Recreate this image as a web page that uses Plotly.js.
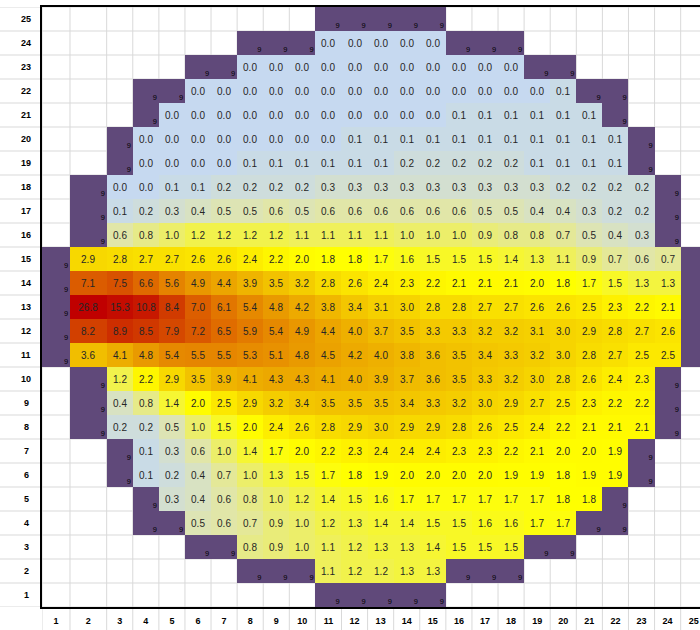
<!DOCTYPE html>
<html><head><meta charset="utf-8">
<script src="https://cdn.plot.ly/plotly-3.0.1.min.js"></script>
<style>html,body{margin:0;padding:0;background:#fff}#chart{width:700px;height:630px}</style>
</head><body><div id="chart"></div>
<script>
// ---------------- DATA ----------------
const _ = null, R = 'R';   // _ = empty cell, R = reflector cell (shown as "9")
const colLabels = [1,2,3,4,5,6,7,8,9,10,11,12,13,14,15,16,17,18,19,20,21,22,23,24,25];
const rowLabels = [25,24,23,22,21,20,19,18,17,16,15,14,13,12,11,10,9,8,7,6,5,4,3,2,1];
const reflectorLabel = '9';

const row25 = [_,_,_,_,_,_,_,_,_,_,R,R,R,R,R,_,_,_,_,_,_,_,_,_,_];
const row24 = [_,_,_,_,_,_,_,R,R,R,0.0,0.0,0.0,0.0,0.0,R,R,R,_,_,_,_,_,_,_];
const row23 = [_,_,_,_,_,R,R,0.0,0.0,0.0,0.0,0.0,0.0,0.0,0.0,0.0,0.0,0.0,R,R,_,_,_,_,_];
const row22 = [_,_,_,R,R,0.0,0.0,0.0,0.0,0.0,0.0,0.0,0.0,0.0,0.0,0.0,0.0,0.0,0.0,0.1,R,R,_,_,_];
const row21 = [_,_,_,R,0.0,0.0,0.0,0.0,0.0,0.0,0.0,0.0,0.0,0.0,0.0,0.1,0.1,0.1,0.1,0.1,0.1,R,_,_,_];
const row20 = [_,_,R,0.0,0.0,0.0,0.0,0.0,0.0,0.0,0.0,0.1,0.1,0.1,0.1,0.1,0.1,0.1,0.1,0.1,0.1,0.1,R,_,_];
const row19 = [_,_,R,0.0,0.0,0.0,0.0,0.1,0.1,0.1,0.1,0.1,0.1,0.2,0.2,0.2,0.2,0.2,0.1,0.1,0.1,0.1,R,_,_];
const row18 = [_,R,0.0,0.0,0.1,0.1,0.2,0.2,0.2,0.2,0.3,0.3,0.3,0.3,0.3,0.3,0.3,0.3,0.3,0.2,0.2,0.2,0.2,R,_];
const row17 = [_,R,0.1,0.2,0.3,0.4,0.5,0.5,0.6,0.5,0.6,0.6,0.6,0.6,0.6,0.6,0.5,0.5,0.4,0.4,0.3,0.2,0.2,R,_];
const row16 = [_,R,0.6,0.8,1.0,1.2,1.2,1.2,1.2,1.1,1.1,1.1,1.1,1.0,1.0,1.0,0.9,0.8,0.8,0.7,0.5,0.4,0.3,R,_];
const row15 = [R,2.9,2.8,2.7,2.7,2.6,2.6,2.4,2.2,2.0,1.8,1.8,1.7,1.6,1.5,1.5,1.5,1.4,1.3,1.1,0.9,0.7,0.6,0.7,R];
const row14 = [R,7.1,7.5,6.6,5.6,4.9,4.4,3.9,3.5,3.2,2.8,2.6,2.4,2.3,2.2,2.1,2.1,2.1,2.0,1.8,1.7,1.5,1.3,1.3,R];
const row13 = [R,26.8,15.3,10.8,8.4,7.0,6.1,5.4,4.8,4.2,3.8,3.4,3.1,3.0,2.8,2.8,2.7,2.7,2.6,2.6,2.5,2.3,2.2,2.1,R];
const row12 = [R,8.2,8.9,8.5,7.9,7.2,6.5,5.9,5.4,4.9,4.4,4.0,3.7,3.5,3.3,3.3,3.2,3.2,3.1,3.0,2.9,2.8,2.7,2.6,R];
const row11 = [R,3.6,4.1,4.8,5.4,5.5,5.5,5.3,5.1,4.8,4.5,4.2,4.0,3.8,3.6,3.5,3.4,3.3,3.2,3.0,2.8,2.7,2.5,2.5,R];
const row10 = [_,R,1.2,2.2,2.9,3.5,3.9,4.1,4.3,4.3,4.1,4.0,3.9,3.7,3.6,3.5,3.3,3.2,3.0,2.8,2.6,2.4,2.3,R,_];
const row9  = [_,R,0.4,0.8,1.4,2.0,2.5,2.9,3.2,3.4,3.5,3.5,3.5,3.4,3.3,3.2,3.0,2.9,2.7,2.5,2.3,2.2,2.2,R,_];
const row8  = [_,R,0.2,0.2,0.5,1.0,1.5,2.0,2.4,2.6,2.8,2.9,3.0,2.9,2.9,2.8,2.6,2.5,2.4,2.2,2.1,2.1,2.1,R,_];
const row7  = [_,_,R,0.1,0.3,0.6,1.0,1.4,1.7,2.0,2.2,2.3,2.4,2.4,2.4,2.3,2.3,2.2,2.1,2.0,2.0,1.9,R,_,_];
const row6  = [_,_,R,0.1,0.2,0.4,0.7,1.0,1.3,1.5,1.7,1.8,1.9,2.0,2.0,2.0,2.0,1.9,1.9,1.8,1.9,1.9,R,_,_];
const row5  = [_,_,_,R,0.3,0.4,0.6,0.8,1.0,1.2,1.4,1.5,1.6,1.7,1.7,1.7,1.7,1.7,1.7,1.8,1.8,R,_,_,_];
const row4  = [_,_,_,R,R,0.5,0.6,0.7,0.9,1.0,1.2,1.3,1.4,1.4,1.5,1.5,1.6,1.6,1.7,1.7,R,R,_,_,_];
const row3  = [_,_,_,_,_,R,R,0.8,0.9,1.0,1.1,1.2,1.3,1.3,1.4,1.5,1.5,1.5,R,R,_,_,_,_,_];
const row2  = [_,_,_,_,_,_,_,R,R,R,1.1,1.2,1.2,1.3,1.3,R,R,R,_,_,_,_,_,_,_];
const row1  = [_,_,_,_,_,_,_,_,_,_,R,R,R,R,R,_,_,_,_,_,_,_,_,_,_];

const rows = [row25,row24,row23,row22,row21,row20,row19,row18,row17,row16,row15,row14,row13,
              row12,row11,row10,row9,row8,row7,row6,row5,row4,row3,row2,row1];

// ---------------- STYLE / LAYOUT CONSTANTS ----------------
const W = 700, H = 630, ML = 42, MT = 7, MB = 23;
const plotW = W - ML, plotH = H - MT - MB;
const unitPx = 26.09;                     // width of a normal column in px
const colWidths = colLabels.map((c, i) => i === 0 ? 1.073 : (i === 1 ? 1.406 : 1));
const edges = [0];
colWidths.forEach(w => edges.push(edges[edges.length - 1] + w));
const centers = colWidths.map((w, i) => (edges[i] + edges[i + 1]) / 2);
const xMax = plotW / unitPx;

const gridColor = '#D9D9D9';
const reflectorColor = '#60497A';
const textFont = 'Liberation Sans, Arial, sans-serif';

// value -> colour stops (Excel-like colour scale)
const colorStops = [
  [0.0,'#C6D9F0'],[0.1,'#C9DBE6'],[0.2,'#CEDDDC'],[0.3,'#D3DFD0'],[0.4,'#D8E2C2'],
  [0.5,'#DDE4B4'],[0.6,'#E1E6A8'],[0.8,'#E6EA88'],[1.0,'#ECEE6A'],[1.2,'#F1F24C'],
  [1.5,'#F8F826'],[1.8,'#FFFF00'],[2.1,'#FFFA00'],[2.5,'#FCE800'],[2.8,'#F8DC00'],
  [3.0,'#F6D400'],[3.5,'#F2C200'],[4.0,'#EEB000'],[4.5,'#EBA200'],[5.0,'#E89400'],
  [5.5,'#E68600'],[6.0,'#E27800'],[6.5,'#E06C00'],[7.0,'#DC5E00'],[7.5,'#D85200'],
  [8.0,'#D44600'],[8.5,'#D03800'],[9.0,'#CC2C00'],[10.8,'#C81800'],[15.3,'#C40C00'],[26.8,'#C00000']
];
const zMax = colorStops[colorStops.length - 1][0];
const colorscale = colorStops.map(s => [s[0] / zMax, s[1]]);

// ---------------- BUILD ----------------
const yAsc = rowLabels.slice().reverse();
const rowsAsc = rows.slice().reverse();
const zVals = rowsAsc.map(r => r.map(v => typeof v === 'number' ? v : null));
const zText = rowsAsc.map(r => r.map(v => typeof v === 'number' ? v.toFixed(1) : ''));
const zRefl = rowsAsc.map(r => r.map(v => v === R ? 1 : null));

// small "9" marker in the lower-right corner of every reflector cell that is inside the view
const nineX = [], nineY = [], nineT = [];
rows.forEach((r, ri) => r.forEach((v, ci) => {
  const xPos = edges[ci + 1] - 0.15;
  if (v === R && xPos < xMax - 0.1) { nineX.push(xPos); nineY.push(rowLabels[ri] - 0.29); nineT.push(reflectorLabel); }
}));

const traces = [
  { type: 'heatmap', x: edges, y: yAsc, z: zRefl, colorscale: [[0, reflectorColor],[1, reflectorColor]],
    showscale: false, hoverinfo: 'skip', zmin: 0, zmax: 1 },
  { type: 'heatmap', x: edges, y: yAsc, z: zVals, text: zText, texttemplate: '%{text}',
    textfont: { family: textFont, size: 10, color: '#262626' },
    colorscale: colorscale, zmin: 0, zmax: zMax, showscale: false, hoverinfo: 'skip' },
  { type: 'scatter', mode: 'text', x: nineX, y: nineY, text: nineT, hoverinfo: 'skip',
    textfont: { family: textFont, size: 7.5, color: '#000' }, showlegend: false }
];

const shapes = [];
for (let k = 0; k < edges.length; k++) {
  shapes.push({ type: 'line', layer: 'below', xref: 'x', yref: 'paper', x0: edges[k], x1: edges[k],
    y0: -MB / plotH, y1: 1, line: { color: gridColor, width: 1 } });
}
for (let b = 0; b <= rowLabels.length; b++) {
  shapes.push({ type: 'line', layer: 'below', xref: 'paper', yref: 'y', x0: -ML / plotW, x1: 1,
    y0: b + 0.5, y1: b + 0.5, line: { color: gridColor, width: 1 } });
}

const annotations = rowLabels.map(r => ({
  xref: 'paper', yref: 'y', x: -(ML - 26) / plotW, y: r, text: String(r), showarrow: false,
  xanchor: 'center', yanchor: 'middle', font: { family: textFont, size: 9, color: '#000', weight: 'bold' }
}));

const layout = {
  width: W, height: H,
  margin: { l: ML, r: 0, t: MT, b: MB, pad: 0 },
  paper_bgcolor: '#fff', plot_bgcolor: 'rgba(0,0,0,0)',
  showlegend: false,
  xaxis: { range: [0, xMax], showgrid: false, zeroline: false, showline: true, mirror: true,
    linecolor: '#000', linewidth: 2, ticks: '', tickvals: centers, ticktext: colLabels.map(String),
    tickfont: { family: textFont, size: 9, color: '#000', weight: 'bold' }, ticklabelstandoff: 4,
    fixedrange: true },
  yaxis: { range: [0.5, rowLabels.length + 0.5], showgrid: false, zeroline: false, showline: true,
    mirror: false, linecolor: '#000', linewidth: 2, ticks: '', showticklabels: false, fixedrange: true },
  shapes: shapes,
  annotations: annotations
};

Plotly.newPlot('chart', traces, layout, { displayModeBar: false, staticPlot: true });
</script>
</body></html>
